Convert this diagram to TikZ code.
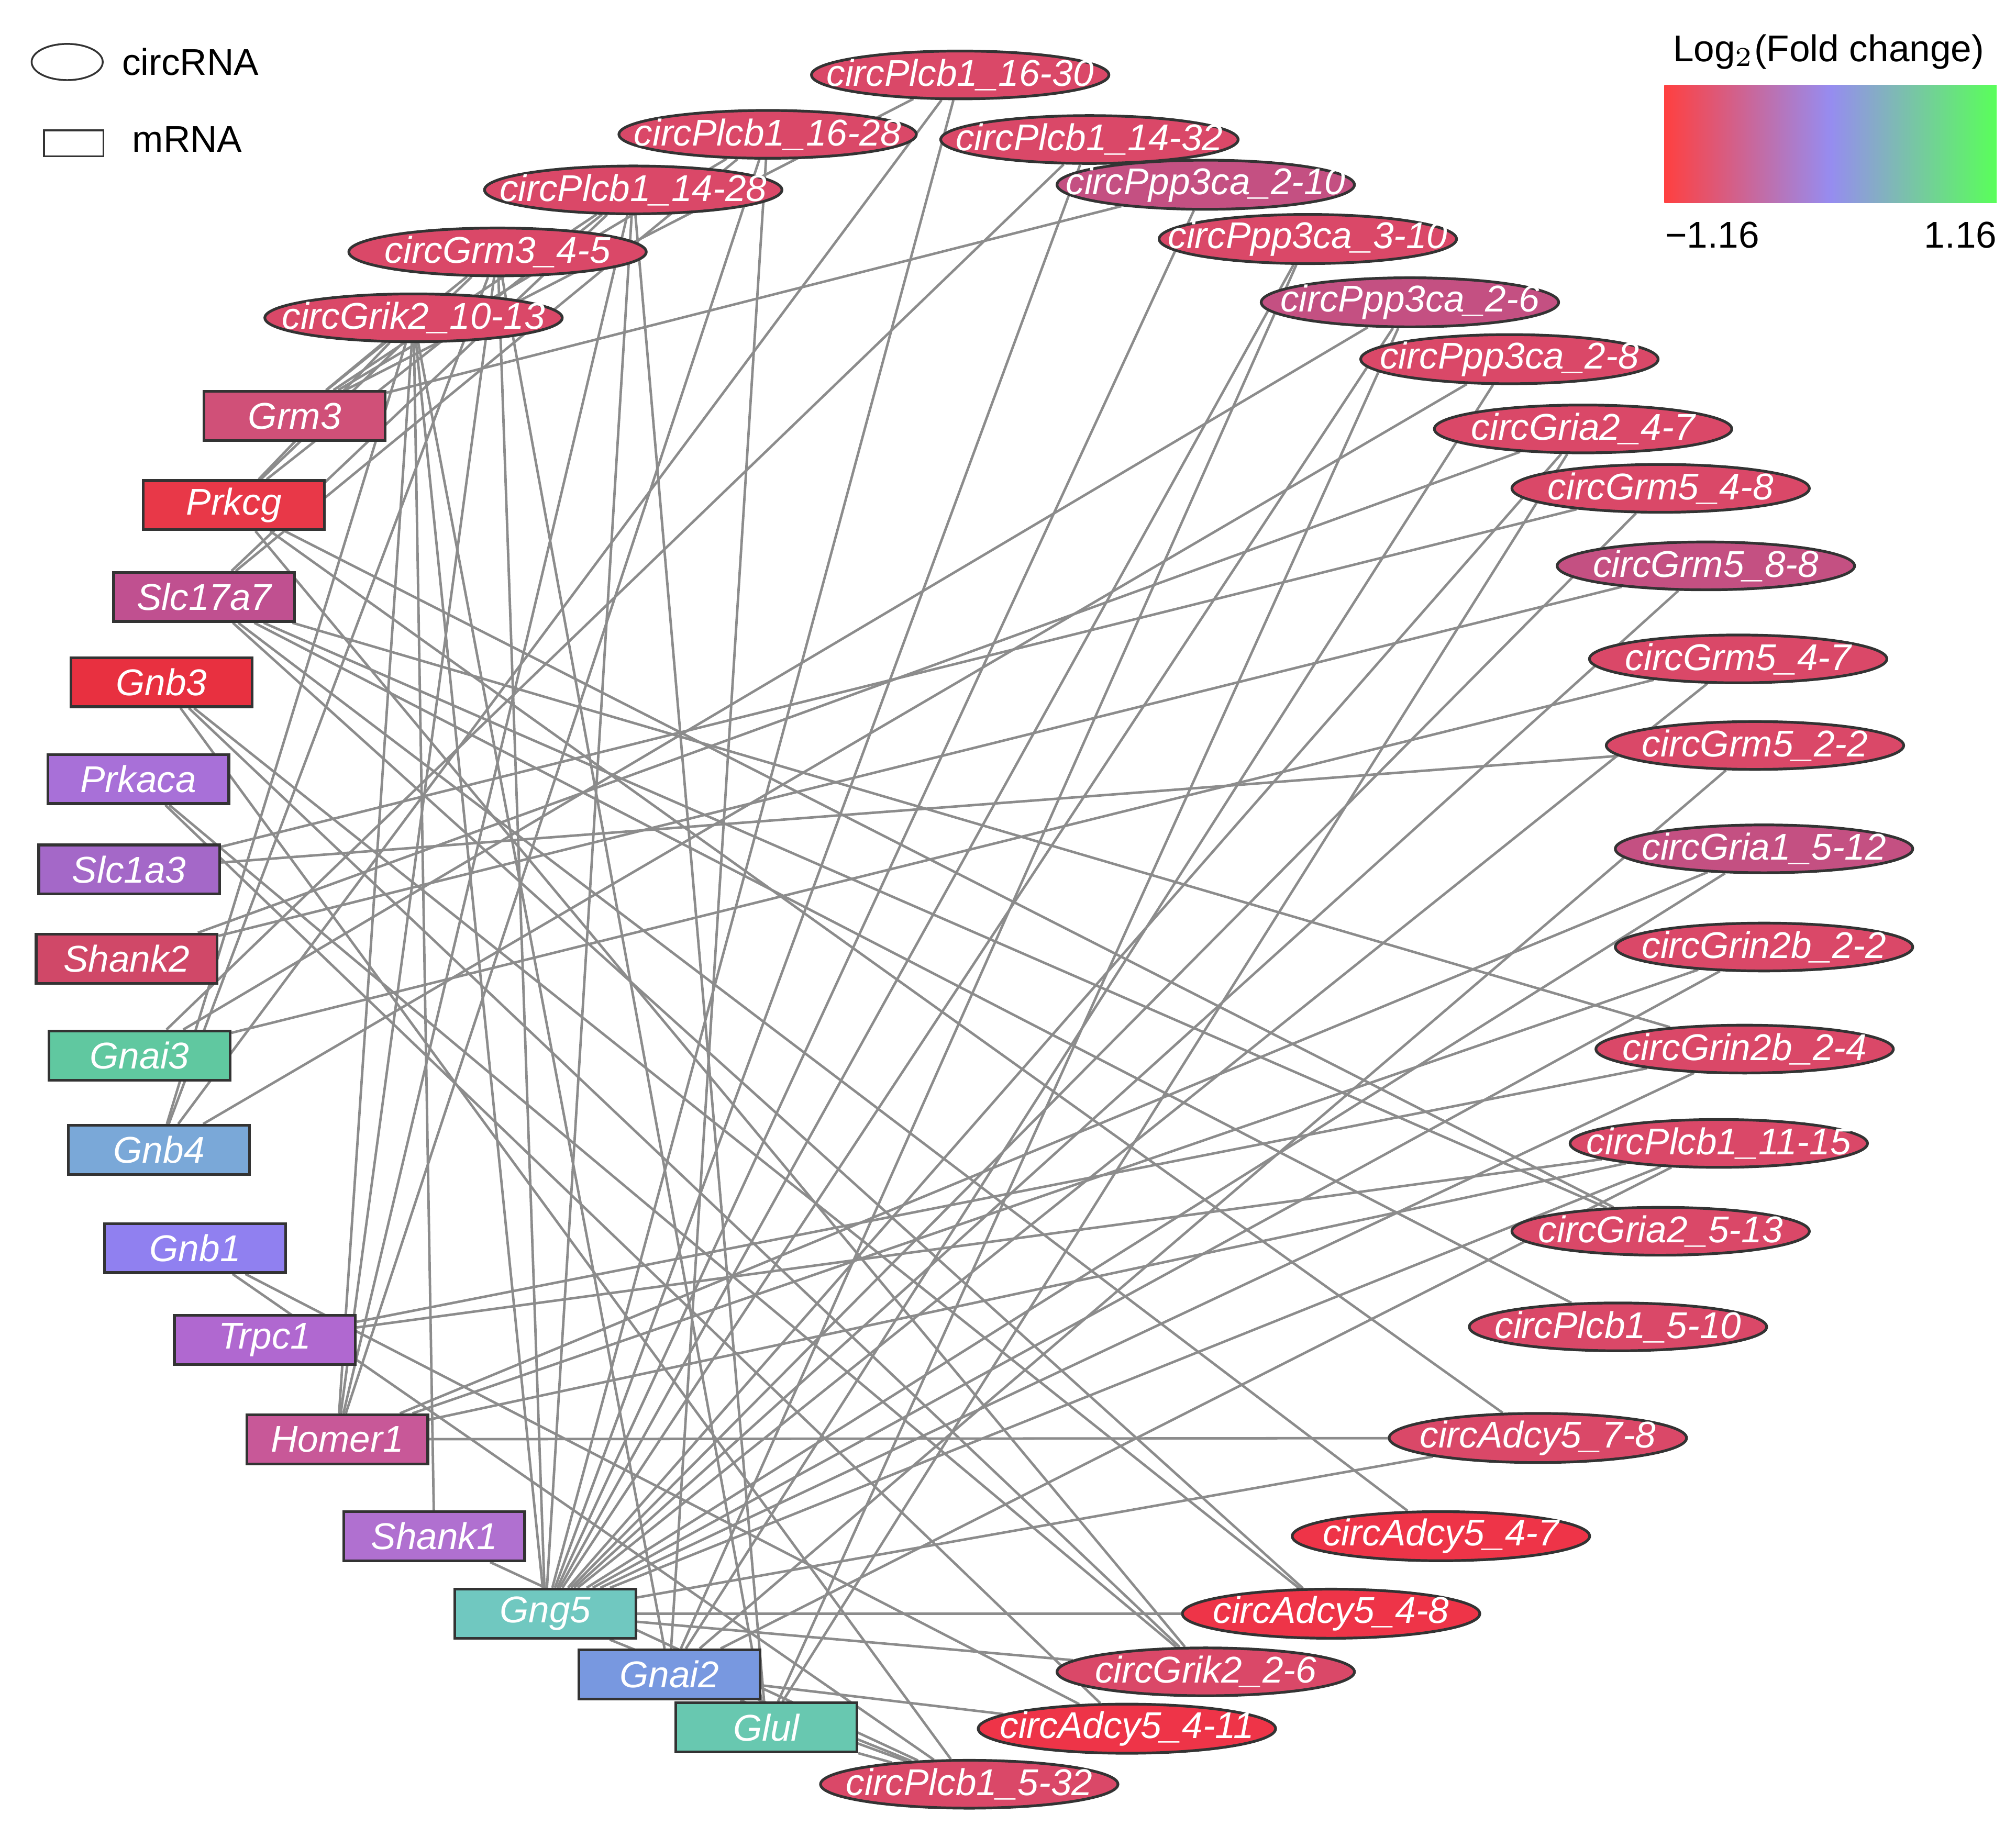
\documentclass[tikz,border=0pt]{standalone}
\usepackage{fontspec}
\setmainfont{Liberation Sans}
\usetikzlibrary{shapes.geometric}
\pgfdeclarelayer{bg}\pgfsetlayers{bg,main}
\definecolor{cr}{HTML}{DA4868}
\definecolor{cred}{HTML}{EE3448}
\definecolor{cpu}{HTML}{C45082}
\newcommand\zb[1]{\makebox[0pt]{#1}}
\tikzset{
 circn/.style={ellipse,draw=black!80,line width=0.6pt,fill=cr,minimum width=2.3cm,minimum height=0.37cm,inner sep=0pt,text=white,font=\fontsize{8.2}{10}\selectfont\itshape},
 mrn/.style={rectangle,draw=black!80,line width=0.6pt,minimum width=1.4cm,minimum height=0.38cm,inner sep=0pt,text=white,font=\fontsize{8.2}{10}\selectfont\itshape},
 edg/.style={draw=black!45,line width=0.55pt}
}
\begin{document}
\begin{tikzpicture}[x=0.01cm,y=-0.01cm]
\useasboundingbox (0,0) rectangle (1560,1413);
% legend
\node[ellipse,draw=black!80,minimum width=0.55cm,minimum height=0.28cm,inner sep=0pt] (le) at (52,48) {};
\node[anchor=west,font=\fontsize{8.2}{10}\selectfont] (lt) at (82,48) {circRNA};
\node[rectangle,draw=black!80,minimum width=0.46cm,minimum height=0.2cm,inner sep=0pt] (lr) at (57,111) {};
\node[anchor=west,font=\fontsize{8.2}{10}\selectfont] (lm) at (90,108) {mRNA};
\node[font=\fontsize{8.2}{10}\selectfont] (lg) at (1415,40) {Log$_2$(Fold change)};
\shade[left color=red!75,right color=green!65,middle color={rgb,255:red,150;green,140;blue,240}] (1288,66) rectangle (1545,157);
\node[font=\fontsize{8.2}{10}\selectfont] (lmin) at (1325,182) {−1.16};
\node[font=\fontsize{8.2}{10}\selectfont] (lmax) at (1517,182) {1.16};
% circRNAs
\node[circn] (a1) at (743,58) {\zb{circPlcb1\_16-30}};
\node[circn] (a2) at (594,104) {\zb{circPlcb1\_16-28}};
\node[circn] (a3) at (843,108) {\zb{circPlcb1\_14-32}};
\node[circn] (a4) at (490,147) {\zb{circPlcb1\_14-28}};
\node[circn,fill=cpu] (a5) at (933,143) {\zb{circPpp3ca\_2-10}};
\node[circn] (a6) at (1012,185) {\zb{circPpp3ca\_3-10}};
\node[circn] (a7) at (385,195) {\zb{circGrm3\_4-5}};
\node[circn] (a8) at (320,246) {\zb{circGrik2\_10-13}};
\node[circn,fill=cpu] (a9) at (1091,234) {\zb{circPpp3ca\_2-6}};
\node[circn] (a10) at (1168,278) {\zb{circPpp3ca\_2-8}};
\node[circn] (a11) at (1225,332) {\zb{circGria2\_4-7}};
\node[circn] (a12) at (1285,378) {\zb{circGrm5\_4-8}};
\node[circn,fill=cpu] (a13) at (1320,438) {\zb{circGrm5\_8-8}};
\node[circn] (a14) at (1345,510) {\zb{circGrm5\_4-7}};
\node[circn] (a15) at (1358,577) {\zb{circGrm5\_2-2}};
\node[circn,fill=cpu] (a16) at (1365,657) {\zb{circGria1\_5-12}};
\node[circn] (a17) at (1365,733) {\zb{circGrin2b\_2-2}};
\node[circn] (a18) at (1350,812) {\zb{circGrin2b\_2-4}};
\node[circn] (a19) at (1330,885) {\zb{circPlcb1\_11-15}};
\node[circn] (a20) at (1285,953) {\zb{circGria2\_5-13}};
\node[circn] (a21) at (1252,1027) {\zb{circPlcb1\_5-10}};
\node[circn] (a22) at (1190,1113) {\zb{circAdcy5\_7-8}};
\node[circn,fill=cred] (a23) at (1115,1189) {\zb{circAdcy5\_4-7}};
\node[circn,fill=cred] (a24) at (1030,1249) {\zb{circAdcy5\_4-8}};
\node[circn] (a25) at (933,1294) {\zb{circGrik2\_2-6}};
\node[circn,fill=cred] (a26) at (872,1338) {\zb{circAdcy5\_4-11}};
\node[circn] (a27) at (750,1381) {\zb{circPlcb1\_5-32}};
% mRNAs
\node[mrn,fill={rgb,255:red,208;green,80;blue,120}] (m1) at (228,322) {Grm3};
\node[mrn,fill={rgb,255:red,232;green,56;blue,72}] (m2) at (181,391) {Prkcg};
\node[mrn,fill={rgb,255:red,192;green,80;blue,144}] (m3) at (158,462) {Slc17a7};
\node[mrn,fill={rgb,255:red,232;green,48;blue,64}] (m4) at (125,528) {Gnb3};
\node[mrn,fill={rgb,255:red,168;green,112;blue,216}] (m5) at (107,603) {Prkaca};
\node[mrn,fill={rgb,255:red,164;green,104;blue,200}] (m6) at (100,673) {Slc1a3};
\node[mrn,fill={rgb,255:red,208;green,72;blue,104}] (m7) at (98,742) {Shank2};
\node[mrn,fill={rgb,255:red,96;green,200;blue,160}] (m8) at (108,817) {Gnai3};
\node[mrn,fill={rgb,255:red,122;green,168;blue,216}] (m9) at (123,890) {Gnb4};
\node[mrn,fill={rgb,255:red,144;green,128;blue,240}] (m10) at (151,966) {Gnb1};
\node[mrn,fill={rgb,255:red,176;green,104;blue,208}] (m11) at (205,1037) {Trpc1};
\node[mrn,fill={rgb,255:red,200;green,88;blue,152}] (m12) at (261,1114) {Homer1};
\node[mrn,fill={rgb,255:red,176;green,112;blue,208}] (m13) at (336,1189) {Shank1};
\node[mrn,fill={rgb,255:red,112;green,200;blue,192}] (m14) at (422,1249) {Gng5};
\node[mrn,fill={rgb,255:red,120;green,152;blue,224}] (m15) at (518,1296) {Gnai2};
\node[mrn,fill={rgb,255:red,104;green,200;blue,176}] (m16) at (593,1337) {Glul};
\begin{pgfonlayer}{bg}
\foreach \m/\a in {m1/a2,m1/a4,m1/a7,m1/a8,m1/a1,m1/a5,
 m2/a8,m2/a7,m2/a4,m2/a22,m2/a20,m2/a25,
 m3/a4,m3/a2,m3/a23,m3/a24,m3/a21,m3/a18,m3/a20,
 m4/a24,m4/a25,m4/a27,m5/a26,m5/a25,m6/a12,m6/a15,m7/a13,m7/a11,
 m8/a14,m8/a9,m8/a3,m9/a1,m9/a8,m9/a10,m9/a7,m10/a26,m10/a27,
 m11/a19,m11/a18,
 m12/a7,m12/a8,m12/a4,m12/a2,m12/a17,m12/a19,m12/a16,m12/a22,
 m13/a8,m13/a27,
 m14/a7,m14/a1,m14/a3,m14/a5,m14/a6,m14/a9,m14/a11,m14/a12,m14/a13,m14/a14,m14/a17,m14/a18,m14/a19,m14/a16,m14/a24,m14/a22,m14/a25,m14/a27,m14/a8,m14/a4,
 m15/a6,m15/a10,m15/a15,m15/a19,m15/a26,m15/a27,m15/a8,m15/a2,
 m16/a7,m16/a4,m16/a27,m16/a11,m16/a9}
 \draw[edg] (\m) -- (\a);
\end{pgfonlayer}
\end{tikzpicture}
\end{document}
